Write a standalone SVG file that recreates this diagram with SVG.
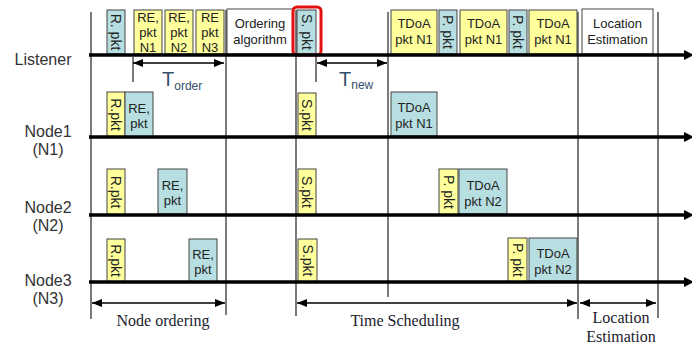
<svg xmlns="http://www.w3.org/2000/svg" width="692" height="345" viewBox="0 0 692 345">
<defs>
<marker id="ah" viewBox="0 0 10 10" refX="10" refY="5" markerWidth="10" markerHeight="10" markerUnits="userSpaceOnUse" orient="auto-start-reverse"><path d="M0,1 L10,5 L0,9 Z" fill="#000"/></marker>
</defs>
<style>
.y{fill:#ffff9c;stroke:#444;stroke-width:1}
.b{fill:#b7dfe2;stroke:#444;stroke-width:1}
.w{fill:#fff;stroke:#444;stroke-width:1}
.t{font-family:"Liberation Sans",Arial,sans-serif;font-size:13px;fill:#222;text-anchor:middle}
.r{font-family:"Liberation Sans",Arial,sans-serif;font-size:14px;fill:#222;text-anchor:middle;dominant-baseline:central}
.lab{font-family:"Liberation Sans",Arial,sans-serif;font-size:16px;fill:#333;text-anchor:middle}
.ser{font-family:"Liberation Serif","Times New Roman",serif;font-size:16px;fill:#1a1a2e;text-anchor:middle}
.axis{stroke:#000;stroke-width:3.5;fill:none}
.v{stroke:#222;stroke-width:1.2;fill:none}
.dim{stroke:#000;stroke-width:1.3;fill:none;marker-start:url(#ah);marker-end:url(#ah)}
.tt{font-family:"Liberation Sans",Arial,sans-serif;fill:#34506e}
</style>

<g id="labels">
<text class="lab" x="43" y="65">Listener</text>
<text class="lab" x="48" y="137">Node1</text>
<text class="lab" x="48" y="155">(N1)</text>
<text class="lab" x="48" y="213">Node2</text>
<text class="lab" x="48" y="231">(N2)</text>
<text class="lab" x="48" y="286">Node3</text>
<text class="lab" x="48" y="304">(N3)</text>
</g>

<g id="connectors">
<line class="v" x1="91" y1="12" x2="91" y2="319"/>
<line class="v" x1="226" y1="10" x2="226" y2="315"/>
<line class="v" x1="296" y1="10" x2="296" y2="316"/>
<line class="v" x1="388" y1="12" x2="388" y2="297"/>
<line class="v" x1="578" y1="12" x2="578" y2="319"/>
<line class="v" x1="658" y1="12" x2="658" y2="318"/>
<line class="v" x1="133" y1="57" x2="133" y2="82"/>
<line class="v" x1="316" y1="55" x2="316" y2="82"/>
<line class="dim" x1="133" y1="63" x2="224" y2="63"/>
<line class="dim" x1="317" y1="63" x2="387" y2="63"/>
<line class="dim" x1="92" y1="303" x2="225" y2="303"/>
<line class="dim" x1="297" y1="303" x2="577" y2="303"/>
<line class="dim" x1="580" y1="303" x2="656" y2="303"/>
</g>

<g id="listener">
<rect class="b" x="107" y="10" width="18" height="44"/>
<text class="r" transform="translate(116,32) rotate(90)">R. pkt</text>
<rect class="y" x="134" y="10" width="28" height="44"/>
<text class="t" x="148" y="22">RE,</text><text class="t" x="148" y="37">pkt</text><text class="t" x="148" y="52">N1</text>
<rect class="y" x="165" y="10" width="28" height="44"/>
<text class="t" x="179" y="22">RE,</text><text class="t" x="179" y="37">pkt</text><text class="t" x="179" y="52">N2</text>
<rect class="y" x="196" y="10" width="28" height="44"/>
<text class="t" x="210" y="22">RE</text><text class="t" x="210" y="37">pkt</text><text class="t" x="210" y="52">N3</text>
<rect class="w" x="227" y="9" width="66" height="45"/>
<text class="t" x="260" y="28">Ordering</text><text class="t" x="260" y="44">algorithm</text>
<rect class="b" x="297" y="10" width="19" height="44"/>
<text class="r" transform="translate(306.5,32) rotate(90)">S. pkt</text>
<rect x="293" y="7" width="28" height="48" rx="4" fill="none" stroke="#e41010" stroke-width="3"/>
<rect class="y" x="391" y="10" width="46" height="44"/>
<text class="t" x="414" y="28">TDoA</text><text class="t" x="414" y="44">pkt N1</text>
<rect class="b" x="439" y="10" width="18" height="44"/>
<text class="r" transform="translate(448,32) rotate(90)">P. pkt</text>
<rect class="y" x="460" y="10" width="47" height="44"/>
<text class="t" x="483.5" y="28">TDoA</text><text class="t" x="483.5" y="44">pkt N1</text>
<rect class="b" x="509" y="10" width="18" height="44"/>
<text class="r" transform="translate(518,32) rotate(90)">P. pkt</text>
<rect class="y" x="529" y="10" width="48" height="44"/>
<text class="t" x="553" y="28">TDoA</text><text class="t" x="553" y="44">pkt N1</text>
<rect class="w" x="582" y="9" width="71" height="45"/>
<text class="t" x="617.5" y="28">Location</text><text class="t" x="617.5" y="44">Estimation</text>
</g>

<g id="node1">
<rect class="y" x="107" y="92" width="18" height="45"/>
<text class="r" transform="translate(116,114.5) rotate(90)">R.pkt</text>
<rect class="b" x="125" y="92" width="28" height="45"/>
<text class="t" x="139" y="113">RE,</text><text class="t" x="139" y="128">pkt</text>
<rect class="y" x="298" y="93" width="18" height="44"/>
<text class="r" transform="translate(307,115) rotate(90)">S.pkt</text>
<rect class="b" x="391" y="92" width="46" height="44"/>
<text class="t" x="414" y="112">TDoA</text><text class="t" x="414" y="128">pkt N1</text>
</g>

<g id="node2">
<rect class="y" x="107" y="169" width="18" height="46"/>
<text class="r" transform="translate(116,192) rotate(90)">R.pkt</text>
<rect class="b" x="158" y="169" width="29" height="45"/>
<text class="t" x="172.5" y="190">RE,</text><text class="t" x="172.5" y="205">pkt</text>
<rect class="y" x="298" y="169" width="18" height="46"/>
<text class="r" transform="translate(307,192) rotate(90)">S.pkt</text>
<rect class="y" x="439" y="169" width="19" height="46"/>
<text class="r" transform="translate(448.5,192) rotate(90)">P. pkt</text>
<rect class="b" x="459" y="169" width="48" height="45"/>
<text class="t" x="483" y="190">TDoA</text><text class="t" x="483" y="206">pkt N2</text>
</g>

<g id="node3">
<rect class="y" x="107" y="239" width="18" height="43"/>
<text class="r" transform="translate(116,260.5) rotate(90)">R.pkt</text>
<rect class="b" x="189" y="239" width="28" height="43"/>
<text class="t" x="203" y="259">RE,</text><text class="t" x="203" y="274">pkt</text>
<rect class="y" x="298" y="239" width="19" height="43"/>
<text class="r" transform="translate(307.5,260.5) rotate(90)">S.pkt</text>
<rect class="y" x="508" y="238" width="19" height="44"/>
<text class="r" transform="translate(517.5,260) rotate(90)">P. pkt</text>
<rect class="b" x="529" y="238" width="48" height="43"/>
<text class="t" x="553" y="258">TDoA</text><text class="t" x="553" y="274">pkt N2</text>
</g>

<g id="axes">
<line class="axis" x1="89" y1="55" x2="684" y2="55"/><path d="M684,50 L694,55 L684,60 Z"/>
<line class="axis" x1="89" y1="137" x2="684" y2="137"/><path d="M684,132 L694,137 L684,142 Z"/>
<line class="axis" x1="89" y1="215" x2="684" y2="215"/><path d="M684,210 L694,215 L684,220 Z"/>
<line class="axis" x1="89" y1="282" x2="684" y2="282"/><path d="M684,277 L694,282 L684,287 Z"/>
</g>

<g id="time-labels">
<text class="tt" x="162" y="86" font-size="20">T<tspan font-size="12" dy="4">order</tspan></text>
<text class="tt" x="339" y="86" font-size="20">T<tspan font-size="12" dy="3">new</tspan></text>
<text class="ser" x="163" y="326">Node ordering</text>
<text class="ser" x="405" y="326">Time Scheduling</text>
<text class="ser" x="621" y="323">Location</text>
<text class="ser" x="621" y="342">Estimation</text>
</g>
</svg>
